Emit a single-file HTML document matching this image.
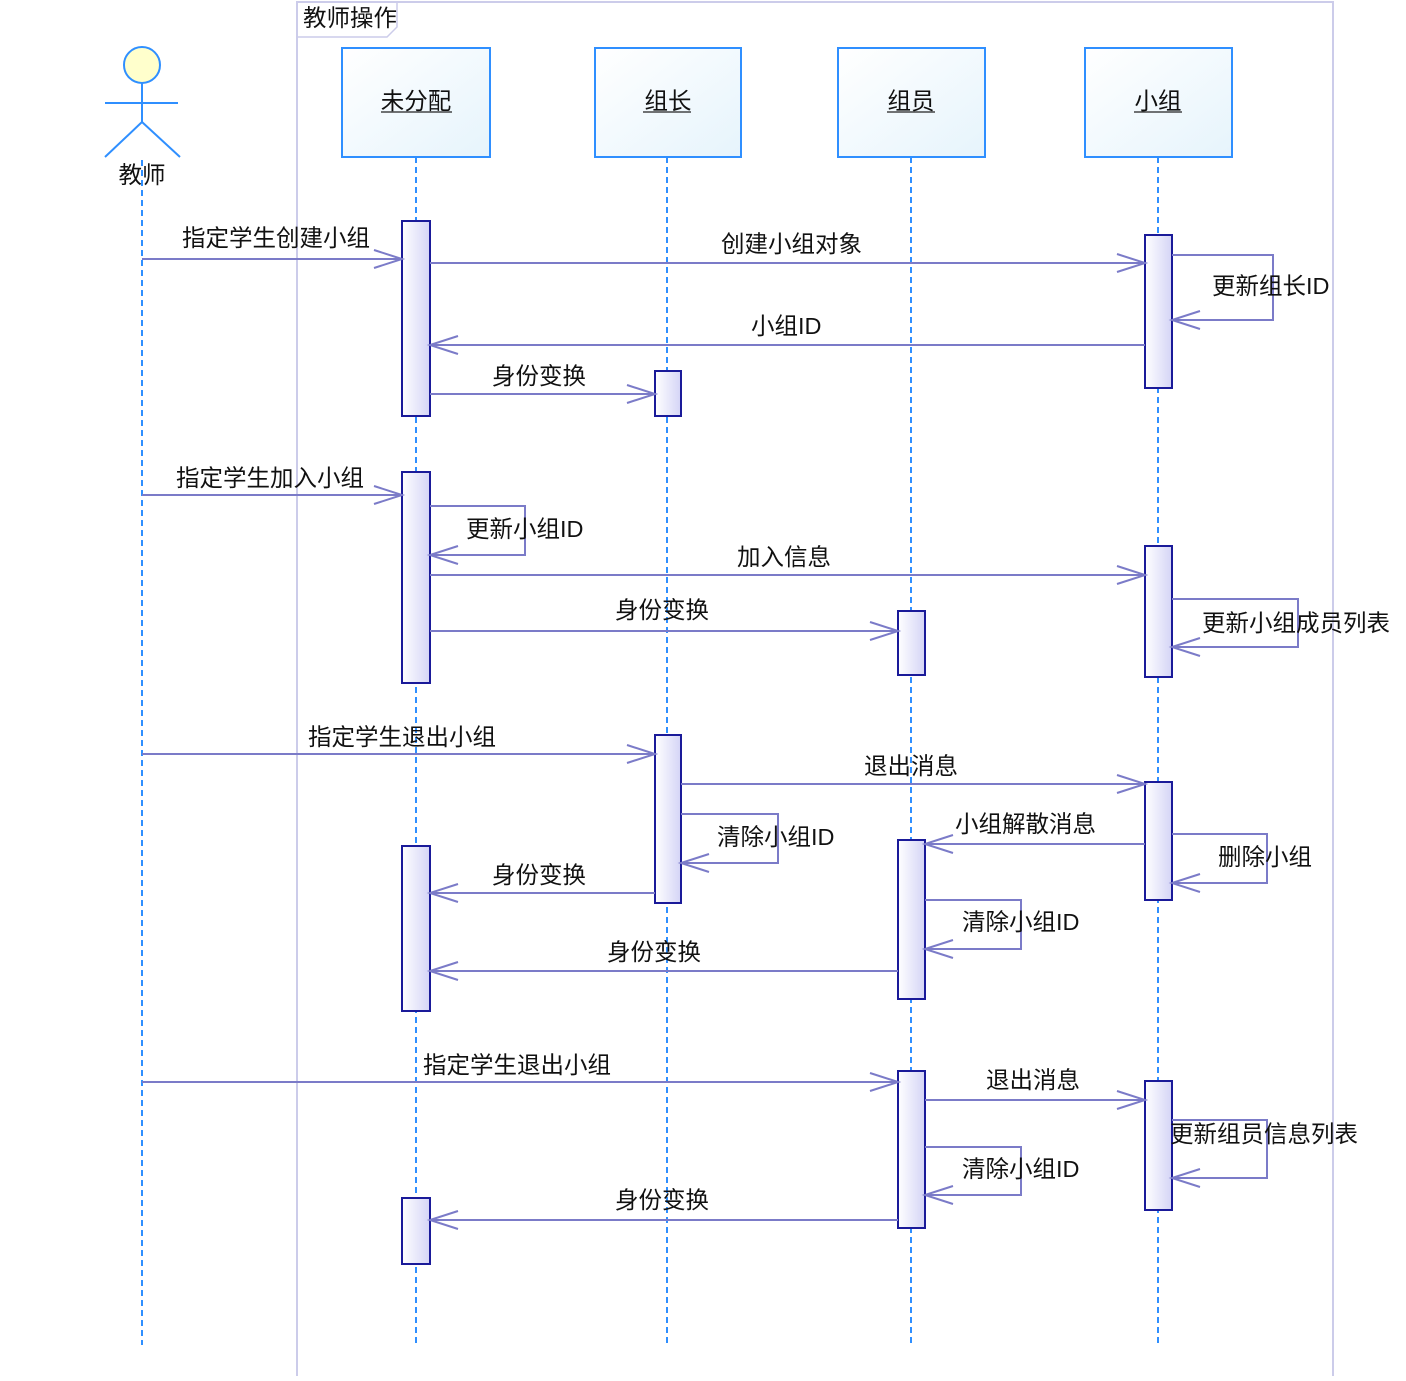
<!DOCTYPE html>
<html><head><meta charset="utf-8"><style>
html,body{margin:0;padding:0;background:#fff;}
svg text{font-family:"Liberation Sans","Noto Sans CJK SC",sans-serif;font-size:23.5px;fill:#111;}
</style></head><body>
<svg width="1406" height="1376" viewBox="0 0 1406 1376" xmlns="http://www.w3.org/2000/svg">
<defs>
<linearGradient id="hg" x1="0" y1="0" x2="1" y2="1"><stop offset="0" stop-color="#ffffff"/><stop offset="1" stop-color="#e6f4fc"/></linearGradient>
<linearGradient id="ag" x1="0" y1="0" x2="1" y2="0"><stop offset="0" stop-color="#ffffff"/><stop offset="1" stop-color="#d4d4f6"/></linearGradient>
</defs>
<rect x="297" y="2" width="1036" height="1380" fill="none" stroke="#ccccea" stroke-width="2"/>
<path d="M297 37 H387 L397 27 V2" fill="none" stroke="#ccccea" stroke-width="1.5"/>
<text x="303" y="26">教师操作</text>
<g stroke="#2f8fff" stroke-width="2" stroke-dasharray="6,4">
<line x1="142" y1="160" x2="142" y2="1345"/>
<line x1="416" y1="157" x2="416" y2="1345"/>
<line x1="667" y1="157" x2="667" y2="1345"/>
<line x1="911" y1="157" x2="911" y2="1345"/>
<line x1="1158" y1="157" x2="1158" y2="1345"/>
</g>
<g stroke="#2f8fff" stroke-width="2" fill="url(#hg)">
<rect x="342" y="48" width="148" height="109"/>
<rect x="595" y="48" width="146" height="109"/>
<rect x="838" y="48" width="147" height="109"/>
<rect x="1085" y="48" width="147" height="109"/>
</g>
<g text-anchor="middle">
<text x="416" y="109">未分配</text>
<text x="668" y="109">组长</text>
<text x="911" y="109">组员</text>
<text x="1158" y="109">小组</text>
</g>
<g stroke="#222" stroke-width="1.2">
<line x1="381" y1="112" x2="452" y2="112"/><line x1="643" y1="112" x2="691" y2="112"/>
<line x1="887" y1="112" x2="935" y2="112"/><line x1="1134" y1="112" x2="1182" y2="112"/>
</g>
<circle cx="142" cy="65" r="18" fill="#ffffcc" stroke="#2f8fff" stroke-width="2"/>
<g stroke="#2f8fff" stroke-width="2">
<line x1="142" y1="83" x2="142" y2="122"/><line x1="105" y1="103" x2="178" y2="103"/>
<line x1="142" y1="122" x2="105" y2="157"/><line x1="142" y1="122" x2="180" y2="157"/>
</g>
<text x="142" y="183" text-anchor="middle">教师</text>
<g stroke="#1a1a99" stroke-width="2" fill="url(#ag)">
<rect x="402" y="221" width="28" height="195"/>
<rect x="402" y="472" width="28" height="211"/>
<rect x="402" y="846" width="28" height="165"/>
<rect x="402" y="1198" width="28" height="66"/>
<rect x="655" y="371" width="26" height="45"/>
<rect x="655" y="735" width="26" height="168"/>
<rect x="898" y="611" width="27" height="64"/>
<rect x="898" y="840" width="27" height="159"/>
<rect x="898" y="1071" width="27" height="157"/>
<rect x="1145" y="235" width="27" height="153"/>
<rect x="1145" y="546" width="27" height="131"/>
<rect x="1145" y="782" width="27" height="118"/>
<rect x="1145" y="1081" width="27" height="129"/>
</g>
<g stroke="#7b7bc8" stroke-width="2" fill="none">
<path d="M142 259H402 M374 250L402 259L374 268"/>
<path d="M430 263H1145 M1117 254L1145 263L1117 272"/>
<path d="M1145 345H430 M458 336L430 345L458 354"/>
<path d="M430 394H655 M627 385L655 394L627 403"/>
<path d="M142 495H402 M374 486L402 495L374 504"/>
<path d="M430 575H1145 M1117 566L1145 575L1117 584"/>
<path d="M430 631H898 M870 622L898 631L870 640"/>
<path d="M142 754H655 M627 745L655 754L627 763"/>
<path d="M681 784H1145 M1117 775L1145 784L1117 793"/>
<path d="M1145 844H925 M953 835L925 844L953 853"/>
<path d="M655 893H430 M458 884L430 893L458 902"/>
<path d="M898 971H430 M458 962L430 971L458 980"/>
<path d="M142 1082H898 M870 1073L898 1082L870 1091"/>
<path d="M925 1100H1145 M1117 1091L1145 1100L1117 1109"/>
<path d="M898 1220H430 M458 1211L430 1220L458 1229"/>
<path d="M1172 255H1273V320H1172 M1200 311L1172 320L1200 329"/>
<path d="M430 506H525V555H430 M458 546L430 555L458 564"/>
<path d="M1172 599H1298V647H1172 M1200 638L1172 647L1200 656"/>
<path d="M681 814H778V863H681 M709 854L681 863L709 872"/>
<path d="M1172 834H1267V883H1172 M1200 874L1172 883L1200 892"/>
<path d="M925 900H1021V949H925 M953 940L925 949L953 958"/>
<path d="M1172 1120H1267V1178H1172 M1200 1169L1172 1178L1200 1187"/>
<path d="M925 1147H1021V1195H925 M953 1186L925 1195L953 1204"/>
</g>
<text x="182" y="246">指定学生创建小组</text>
<text x="721" y="252">创建小组对象</text>
<text x="1212" y="294">更新组长ID</text>
<text x="751" y="334">小组ID</text>
<text x="492" y="384">身份变换</text>
<text x="176" y="486">指定学生加入小组</text>
<text x="466" y="537">更新小组ID</text>
<text x="737" y="565">加入信息</text>
<text x="615" y="618">身份变换</text>
<text x="1202" y="631">更新小组成员列表</text>
<text x="308" y="745">指定学生退出小组</text>
<text x="864" y="774">退出消息</text>
<text x="717" y="845">清除小组ID</text>
<text x="955" y="832">小组解散消息</text>
<text x="1218" y="865">删除小组</text>
<text x="492" y="883">身份变换</text>
<text x="962" y="930">清除小组ID</text>
<text x="607" y="960">身份变换</text>
<text x="423" y="1073">指定学生退出小组</text>
<text x="986" y="1088">退出消息</text>
<text x="1170" y="1142">更新组员信息列表</text>
<text x="962" y="1177">清除小组ID</text>
<text x="615" y="1208">身份变换</text>
</svg>
</body></html>
